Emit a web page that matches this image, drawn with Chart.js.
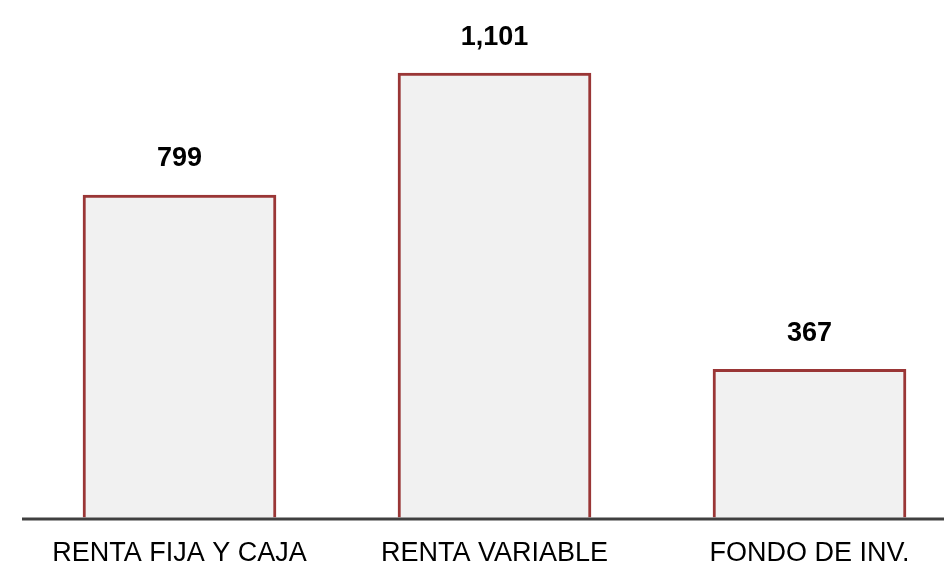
<!DOCTYPE html>
<html>
<head>
<meta charset="utf-8">
<script src="https://cdn.jsdelivr.net/npm/chart.js@4.4.1/dist/chart.umd.min.js"></script>
<style>
  html, body { margin: 0; padding: 0; background: #ffffff; }
  #wrap { width: 944px; height: 567px; }
</style>
</head>
<body>
<div id="wrap"><canvas id="barChart"></canvas></div>
<script>
// chart data
const categories = ["RENTA FIJA Y CAJA", "RENTA VARIABLE", "FONDO DE INV."];
const values = [799, 1101, 367];

// axis line across the width, like the original
const baseLine = {
  id: "baseLine",
  afterDatasetsDraw(chart) {
    const ctx = chart.ctx;
    const y = chart.scales.y.getPixelForValue(0) + 1.5;
    ctx.save();
    ctx.strokeStyle = "#404040";
    ctx.lineWidth = 3;
    ctx.beginPath();
    ctx.moveTo(22, y);
    ctx.lineTo(chart.width, y);
    ctx.stroke();
    ctx.restore();
  }
};

// value labels over each bar
const valueLabels = {
  id: "valueLabels",
  afterDatasetsDraw(chart) {
    const ctx = chart.ctx;
    const meta = chart.getDatasetMeta(0);
    ctx.save();
    ctx.fillStyle = "#000000";
    ctx.font = "bold 27px 'Liberation Sans', Arial, sans-serif";
    ctx.textAlign = "center";
    ctx.textBaseline = "middle";
    meta.data.forEach((bar, i) => {
      ctx.fillText(values[i].toLocaleString("en-US"), bar.x, bar.y - 36);
    });
    ctx.restore();
  }
};

new Chart(document.getElementById("barChart"), {
  type: "bar",
  data: {
    labels: categories,
    datasets: [{
      data: values,
      backgroundColor: "#f1f1f1",
      borderColor: "#9a3636",
      borderWidth: 3,
      barThickness: 193,
      clip: false
    }]
  },
  options: {
    responsive: true,
    maintainAspectRatio: false,
    animation: false,
    layout: { padding: { left: 179.5, right: 134.5, top: 0, bottom: -23 } },
    plugins: {
      legend: { display: false },
      tooltip: { enabled: false }
    },
    scales: {
      x: {
        offset: false,
        grid: { display: false, drawTicks: false },
        border: { display: false },
        ticks: {
          color: "#000000",
          padding: 20,
          maxRotation: 0,
          font: { family: "'Liberation Sans', Arial, sans-serif", size: 27 }
        }
      },
      y: {
        display: false,
        min: 0,
        max: 1282
      }
    }
  },
  plugins: [baseLine, valueLabels]
});
</script>
</body>
</html>
